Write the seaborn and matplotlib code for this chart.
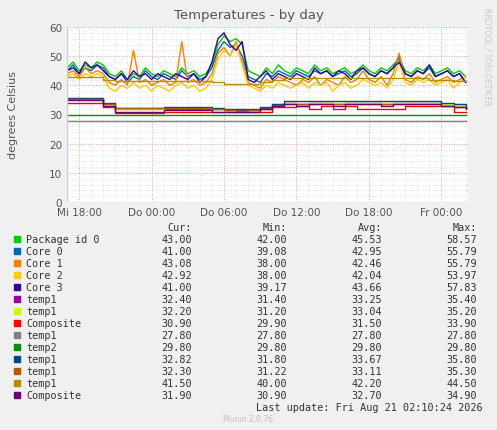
import numpy as np
import pandas as pd
import matplotlib
matplotlib.use("Agg")
import matplotlib.pyplot as plt
import seaborn as sns

# half-hourly readings from 17:00 Wed (t in hours)
pkg = [46,48,45,47,46,48,47,44,43,45, 42,44,43,46,44,43,45,44,43,46, 44,45,43,44,47,54,57,55,56,54,
       45,44,43,46,44,47,45,44,46,45, 44,47,45,46,44,45,46,44,45,47, 45,44,46,45,47,49,45,44,46,45, 47,44,45,46,44,45,43]
core0 = [45,47,44,46,45,47,46,43,42,44, 41,43,42,45,43,42,44,43,42,45, 43,44,42,43,46,52,55,53,54,50,
         43,42,41,44,43,45,44,43,45,44, 43,45,44,45,43,44,45,43,44,46, 44,43,45,44,46,50,44,43,45,44, 46,43,44,45,43,44,41]
core1 = [44,45,43,46,44,45,44,41,40,42, 40,52,41,42,40,41,42,40,41,55, 41,42,40,41,44,51,53,50,55,48,
         41,40,39,42,41,43,42,41,40,42, 41,43,40,42,41,40,43,41,42,45, 42,41,43,40,44,51,42,41,43,42, 44,41,42,43,41,42,43]
core2 = [43,44,42,44,43,44,43,39,38,40, 39,41,39,40,38,40,39,38,40,41, 39,40,38,39,42,49,52,50,54,47,
         40,39,38,40,39,41,40,39,40,41, 39,41,40,41,38,40,41,39,40,42, 41,40,41,39,42,48,41,40,42,41, 42,40,41,42,39,41,43]
core3 = [45,46,44,48,46,47,45,43,42,44, 42,45,43,44,42,44,43,42,44,43, 42,44,41,43,48,56,58,54,52,55,
         42,41,43,45,42,44,43,42,44,43, 42,46,44,45,43,45,44,42,45,46, 44,43,45,44,46,48,44,43,45,44, 47,43,44,45,43,44,41]

# hourly readings
t1_navy = [35.8,35.8,35.8,34,32.3,32.3,32.3,32.3,32.5,32.5,32.5,32.5,32.3,32,32,32,32.5,33.5,34.5,34.5,
           34.5,34.5,34.5,34.5,34.5,34.5,34.5,34.5,34.5,34.5,34.5,34,33.5,32.8]
t1_purple = [35.4,35.4,35.4,33.5,31.8,31.8,32,32,32,32,32,32,31.8,31.4,31.4,31.6,32.4,33.2,34,33.5,
             34,34,33.5,34,34,34,33.5,34,34,34,34,33.5,33,32.4]
t1_lime = [35.2,35.2,35.2,33.5,32,32,32,32,32.2,32.2,32.2,32.2,32,31.5,31.2,31.5,32,33,34,33.5,
           34,34,34,34,34,34,34,34,34,34,34,33.5,33,32.2]
t1_brown = [35.3,35.3,35.3,33.5,32.2,32.2,32.2,32.2,32.2,32.2,32.2,32.2,32,31.5,31.3,31.5,32,33,33.5,33.5,
            33.5,33.5,33.5,33.5,33.5,33.5,33.5,33.5,33.5,33.5,33.5,33,32.5,32.3]
comp_red = [34,34,34,32.5,30.5,30.5,30.5,30.5,31,31,31,31,30.9,30.9,30.9,30.9,31,32.5,32.5,33,
            32,33,32,33,32,32,32,32,33,33,33,33,31,31]
comp_dark = [35,35,35,33,31,31,31,31,31.5,31.5,31.5,31.5,31,31,30.9,31,31.8,33,33.5,33,
             33.5,33.5,33,33.5,33.5,33.5,33,33.5,33.5,33.5,33.5,33,32.5,31.9]
t1_olive = [43,43,43,42,41.5,41.5,41.5,41.5,41.5,41.5,41.5,41.5,41,40.5,40.5,40.5,41,42,42.5,42.5,
            42.5,42.5,42.5,42.5,42.5,42.5,42.5,42.5,42.5,42.5,42,42,41.5,41.5]
t1_grey = [27.8] * 34
temp2 = [29.8] * 34

names = ["Package id 0", "Core 0", "Core 1", "Core 2", "Core 3", "temp1", "temp1", "Composite",
         "temp1", "temp2", "temp1", "temp1", "temp1", "Composite"]
colors = ["#00CC00", "#0066B3", "#FF8000", "#FFCC00", "#330099", "#990099", "#CCFF00", "#FF0000",
          "#808080", "#008F00", "#00487D", "#B35A00", "#B38F00", "#6B006B"]
cur = ["43.00", "41.00", "43.08", "42.92", "41.00", "32.40", "32.20", "30.90", "27.80", "29.80", "32.82", "32.30", "41.50", "31.90"]
mins = ["42.00", "39.08", "38.00", "38.00", "39.17", "31.40", "31.20", "29.90", "27.80", "29.80", "31.80", "31.22", "40.00", "30.90"]
avgs = ["45.53", "42.95", "42.46", "42.04", "43.66", "33.25", "33.04", "31.50", "27.80", "29.80", "33.67", "33.11", "42.20", "32.70"]
maxs = ["58.57", "55.79", "55.79", "53.97", "57.83", "35.40", "35.20", "33.90", "27.80", "29.80", "35.80", "35.30", "44.50", "34.90"]

series = [pkg, core0, core1, core2, core3, t1_purple, t1_lime, comp_red,
          t1_grey, temp2, t1_navy, t1_brown, t1_olive, comp_dark]

bg = "#F0F0F0"
fig = plt.figure(figsize=(4.97, 4.31), dpi=100, facecolor=bg)
ax = fig.add_axes([67 / 497, 1 - 203 / 431, 401 / 497, 175 / 431])
ax.set_facecolor("white")

for vals, c in zip(series, colors):
    n = len(vals)
    step = 0.5 if n == 67 else 1.0
    t = np.arange(n) * step
    df = pd.DataFrame({"t": t, "v": vals})
    if n == 67:
        sns.lineplot(data=df, x="t", y="v", ax=ax, color=c, linewidth=1)
    else:
        ax.step(df["t"], df["v"], where="post", color=c, linewidth=1)

ax.set_xlim(0, 33.2)
ax.set_ylim(0, 60)
ax.set_xticks([1, 7, 13, 19, 25, 31])
ax.set_xticklabels(["Mi 18:00", "Do 00:00", "Do 06:00", "Do 12:00", "Do 18:00", "Fr 00:00"])
ax.set_xticks(np.arange(0, 34, 1), minor=True)
ax.set_yticks(np.arange(0, 61, 10))
ax.set_yticks(np.arange(0, 61, 2), minor=True)
ax.grid(which="minor", color="#DDDDDD", linestyle=":", linewidth=0.6)
ax.grid(which="major", color="#E8A0A0", linestyle=":", linewidth=0.7)
ax.set_axisbelow(True)
for s in ax.spines.values():
    s.set_visible(False)
ax.tick_params(labelsize=7.5, colors="#555555", length=0, which="both")
ax.set_xlabel("")
ax.set_ylabel("degrees Celsius", fontsize=8, color="#555555", labelpad=22)
ax.axhline(0, color="#C8C8F0", linewidth=1)
ax.axvline(0, color="#C8C8F0", linewidth=1)

fig.text(0.5, 1 - 19 / 431, "Temperatures - by day", ha="center", fontsize=9.5, color="#555555")
fig.text(487 / 497, 1 - 8 / 431, "RRDTOOL / TOBI OETIKER", rotation=270, ha="center", va="top",
         fontsize=5.5, color="#C8C8C8")

mono = "DejaVu Sans Mono"
fs = 7.3
tc = "#333333"
def y(px):
    return 1 - px / 431
fig.text(192 / 497, y(228), "Cur:", ha="right", va="center", family=mono, fontsize=fs, color=tc)
fig.text(287 / 497, y(228), "Min:", ha="right", va="center", family=mono, fontsize=fs, color=tc)
fig.text(382 / 497, y(228), "Avg:", ha="right", va="center", family=mono, fontsize=fs, color=tc)
fig.text(477 / 497, y(228), "Max:", ha="right", va="center", family=mono, fontsize=fs, color=tc)
for i, name in enumerate(names):
    py = 240 + 12 * i
    fig.patches.append(plt.Rectangle((14 / 497, y(py + 3)), 6 / 497, 6 / 431, transform=fig.transFigure,
                                     color=colors[i]))
    fig.text(26 / 497, y(py), name, va="center", family=mono, fontsize=fs, color=tc)
    fig.text(192 / 497, y(py), cur[i], ha="right", va="center", family=mono, fontsize=fs, color=tc)
    fig.text(287 / 497, y(py), mins[i], ha="right", va="center", family=mono, fontsize=fs, color=tc)
    fig.text(382 / 497, y(py), avgs[i], ha="right", va="center", family=mono, fontsize=fs, color=tc)
    fig.text(477 / 497, y(py), maxs[i], ha="right", va="center", family=mono, fontsize=fs, color=tc)
fig.text(483 / 497, y(408), "Last update: Fri Aug 21 02:10:24 2026", ha="right", va="center",
         family=mono, fontsize=fs, color=tc)
fig.text(248 / 497, y(420), "Munin 2.0.76", ha="center", va="center", fontsize=5.5, color="#C0C0C0")

fig.savefig("out.png", dpi=100, facecolor=bg)
